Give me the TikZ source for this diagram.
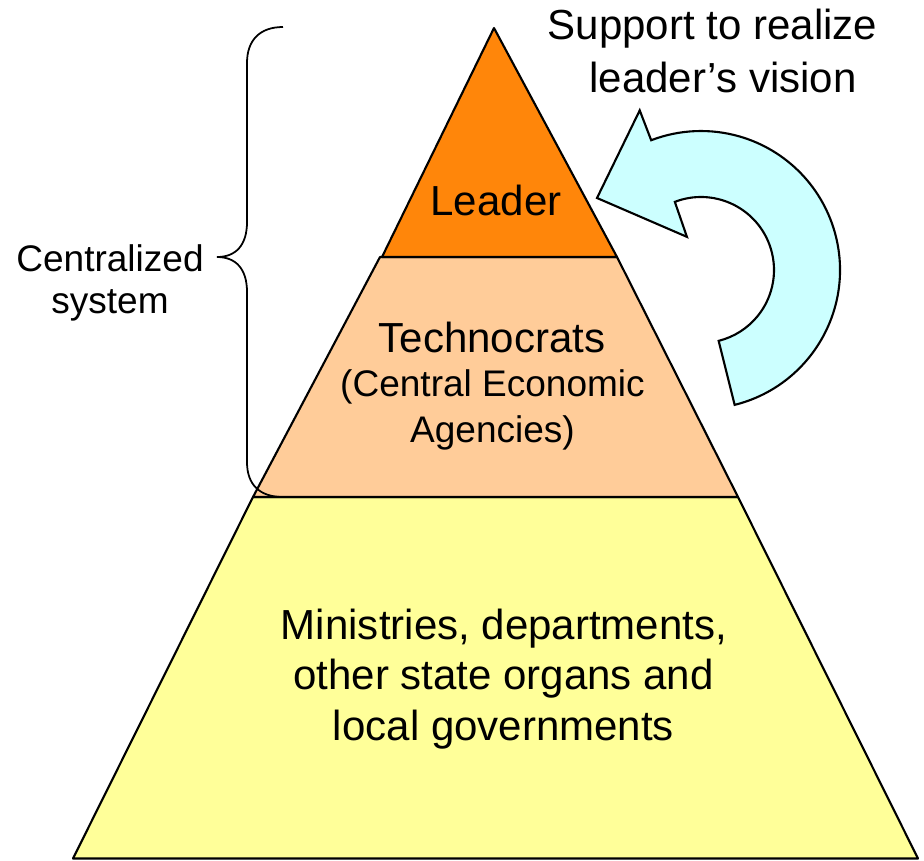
\documentclass[tikz,border=0pt]{standalone}
\usepackage{fontspec}
\setmainfont{Liberation Sans}
\definecolor{leaderc}{RGB}{255,134,10}
\definecolor{techc}{RGB}{255,204,153}
\definecolor{basec}{RGB}{255,255,153}
\definecolor{arrowc}{RGB}{204,255,255}
\tikzset{
  layer/.style={draw=black, line width=0.6pt, line join=round},
  bigtxt/.style={anchor=base, inner sep=0pt, font=\fontsize{11.95}{14}\selectfont},
  smalltxt/.style={anchor=base, inner sep=0pt, font=\fontsize{10.53}{13}\selectfont},
  bracestyle/.style={draw=black, line width=0.5pt},
  turnarrow/.style={draw=black, fill=arrowc, line width=0.6pt, line join=miter}
}
\begin{document}
\begin{tikzpicture}[x=0.01cm, y=-0.01cm]
\useasboundingbox (0,0) rectangle (924,860);
\fill[white] (0,0) rectangle (924,860);
% pyramid levels
\draw[layer, fill=basec] (253,497) -- (738,497) -- (918,858.5) -- (73,858.5) -- cycle;
\draw[layer, fill=techc] (380,257) -- (617,257) -- (738,497) -- (253,497) -- cycle;
\draw[layer, fill=leaderc] (494,28) -- (617,257) -- (382,257) -- cycle;
% brace
\draw[bracestyle] (283,27) .. controls (260,27) and (247,40) .. (247,63) -- (247,222)
  .. controls (247,245) and (236,257) .. (217,257)
  .. controls (236,257) and (247,269) .. (247,292) -- (247,462)
  .. controls (247,485) and (260,497) .. (283,497);
% circular arrow
\coordinate (ac) at (701,270);
\draw[turnarrow] ([shift={(76:139)}]ac) arc[start angle=76, end angle=-111, radius=139]
  -- ([shift={(-111:171)}]ac) -- ([shift={(-145.3:126.5)}]ac) -- ([shift={(-113:36)}]ac)
  -- ([shift={(-111:73)}]ac) arc[start angle=-111, end angle=76, radius=73] -- cycle;
% texts
\node[bigtxt] (sup1) at (712.5,39.5) {Support to realize};
\node[bigtxt] (sup2) at (723,92) {leader’s vision};
\node[bigtxt] (leader) at (496,215) {Leader};
\node[bigtxt] (tech1) at (492,352) {Technocrats};
\node[smalltxt] (tech2) at (492.5,396) {(Central Economic};
\node[smalltxt] (tech3) at (492.5,442) {Agencies)};
\node[bigtxt] (min1) at (504,639) {Ministries, departments,};
\node[bigtxt] (min2) at (503.5,689) {other state organs and};
\node[bigtxt] (min3) at (503.5,740) {local governments};
\node[smalltxt] (cen1) at (110,271) {Centralized};
\node[smalltxt] (cen2) at (110,313) {system};
\end{tikzpicture}
\end{document}
